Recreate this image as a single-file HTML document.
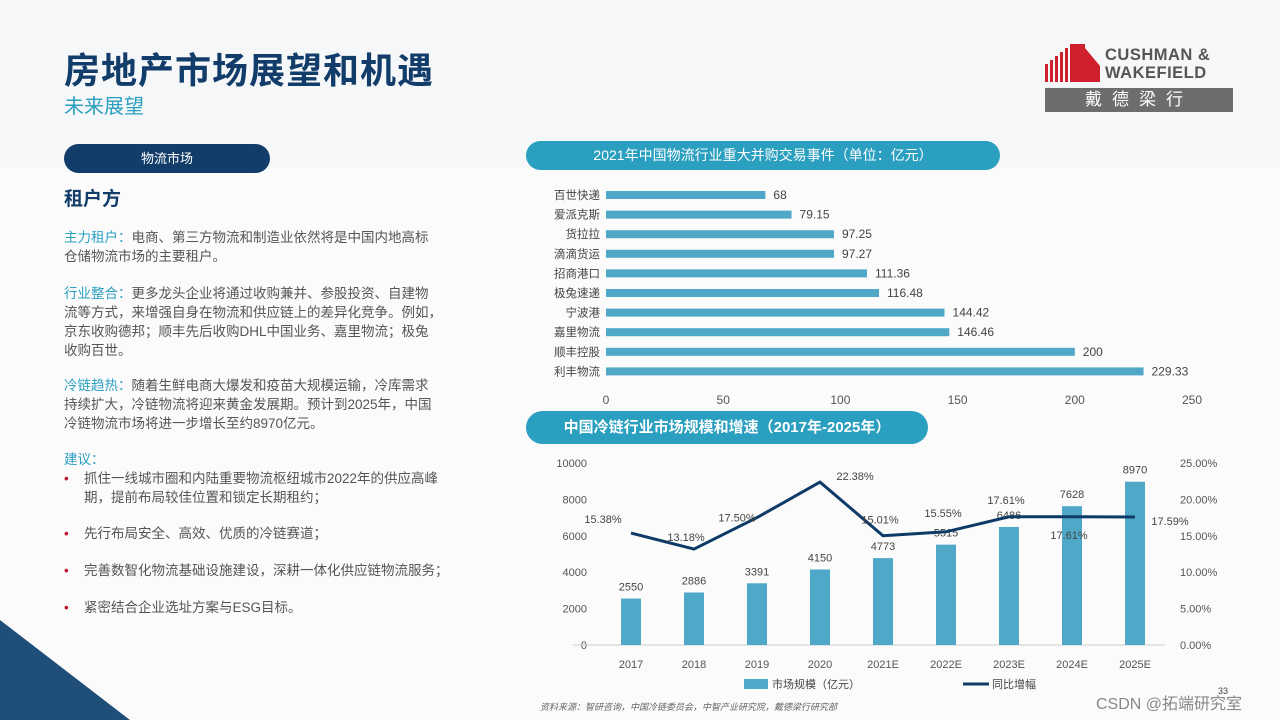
<!DOCTYPE html>
<html><head><meta charset="utf-8">
<style>
*{margin:0;padding:0;box-sizing:border-box}
body{width:1280px;height:720px;overflow:hidden;background:#f6f7f9;font-family:"Liberation Sans","Noto Sans CJK SC",sans-serif;position:relative}
.abs{position:absolute}
.p{font-size:13.5px;line-height:19px;color:#555;white-space:nowrap}
.hl{color:#2a9fc0}
.b{position:absolute;left:64px;font-size:13.5px;color:#555;line-height:19px;white-space:nowrap}
.b::before{content:"•";color:#c0142a;position:absolute;left:0}
.b span{padding-left:20px;display:block}
</style></head><body>
<div class="abs" style="left:0;top:168px;width:1280px;height:552px;background:#fbfbfb"></div>
<div class="abs" style="left:0;top:620px;width:0;height:0;border-bottom:100px solid #1f4e79;border-right:130px solid transparent"></div>
<div class="abs" style="left:64px;top:42px;font-size:36px;font-weight:bold;color:#123d6a;letter-spacing:1px">房地产市场展望和机遇</div>
<div class="abs" style="left:64px;top:90px;font-size:20px;color:#2a9fc0">未来展望</div>
<div class="abs" style="left:1045px;top:44px;width:188px;height:68px">
 <svg width="56" height="38" style="position:absolute;left:0;top:0"><g fill="#d0202e">
 <rect x="0" y="20" width="3" height="18"/><rect x="5" y="16" width="3" height="22"/><rect x="10" y="12" width="3" height="26"/><rect x="15" y="8" width="3" height="30"/><rect x="20" y="4" width="3" height="34"/><rect x="25" y="0" width="15" height="38"/><polygon points="40,4 55,22 55,38 40,38"/></g></svg>
 <div style="position:absolute;left:60px;top:2px;font-size:16.5px;font-weight:bold;color:#555;line-height:18px;letter-spacing:0.5px">CUSHMAN &amp;<br>WAKEFIELD</div>
 <div style="position:absolute;left:0;top:44px;width:188px;height:24px;background:#6d6d6d;color:#fff;font-size:17px;text-align:center;letter-spacing:10px;line-height:24px">戴德梁行</div>
</div>
<div class="abs" style="left:64px;top:144px;width:206px;height:29px;border-radius:15px;background:#123d6a;color:#fff;font-size:13px;text-align:center;line-height:29px">物流市场</div>
<div class="abs" style="left:64px;top:184px;font-size:19px;font-weight:bold;color:#123d6a">租户方</div>
<div class="abs p" style="left:64px;top:228px"><span class="hl">主力租户：</span>电商、第三方物流和制造业依然将是中国内地高标<br>仓储物流市场的主要租户。</div>
<div class="abs p" style="left:64px;top:284px"><span class="hl">行业整合：</span>更多龙头企业将通过收购兼并、参股投资、自建物<br>流等方式，来增强自身在物流和供应链上的差异化竞争。例如，<br>京东收购德邦；顺丰先后收购DHL中国业务、嘉里物流；极兔<br>收购百世。</div>
<div class="abs p" style="left:64px;top:376px"><span class="hl">冷链趋热：</span>随着生鲜电商大爆发和疫苗大规模运输，冷库需求<br>持续扩大，冷链物流将迎来黄金发展期。预计到2025年，中国<br>冷链物流市场将进一步增长至约8970亿元。</div>
<div class="abs p hl" style="left:64px;top:450px">建议：</div>
<div class="b" style="top:469px"><span>抓住一线城市圈和内陆重要物流枢纽城市2022年的供应高峰<br>期，提前布局较佳位置和锁定长期租约；</span></div>
<div class="b" style="top:524px"><span>先行布局安全、高效、优质的冷链赛道；</span></div>
<div class="b" style="top:561px"><span>完善数智化物流基础设施建设，深耕一体化供应链物流服务；</span></div>
<div class="b" style="top:598px"><span>紧密结合企业选址方案与ESG目标。</span></div>
<div class="abs" style="left:526px;top:141px;width:474px;height:29px;border-radius:15px;background:#2a9fc0;color:#fff;font-size:14px;text-align:center;line-height:29px">2021年中国物流行业重大并购交易事件（单位：亿元）</div>
<div class="abs" style="left:526px;top:411px;width:402px;height:33px;border-radius:17px;background:#2a9fc0;color:#fff;font-size:15px;font-weight:bold;text-align:center;line-height:33px">中国冷链行业市场规模和增速（2017年-2025年）</div>
<svg class="abs" style="left:0;top:0" width="1280" height="720" id="charts"></svg>
<div class="abs" style="left:540px;top:700px;font-size:9px;font-style:italic;color:#666">资料来源：智研咨询，中国冷链委员会，中智产业研究院，戴德梁行研究部</div>
<div class="abs" style="left:1218px;top:686px;font-size:9px;color:#444">33</div>
<div class="abs" style="left:1096px;top:690px;font-size:16px;color:#888">CSDN @拓端研究室</div>
<script>
const maCompanies=["百世快递","爱派克斯","货拉拉","滴滴货运","招商港口","极兔速递","宁波港","嘉里物流","顺丰控股","利丰物流"];
const maValues=[68,79.15,97.25,97.27,111.36,116.48,144.42,146.46,200,229.33];
const maTicks=[0,50,100,150,200,250];
const ccYears=["2017","2018","2019","2020","2021E","2022E","2023E","2024E","2025E"];
const ccSize=[2550,2886,3391,4150,4773,5515,6486,7628,8970];
const ccGrowth=[15.38,13.18,17.50,22.38,15.01,15.55,17.61,17.61,17.59];
const ccLeftTicks=[0,2000,4000,6000,8000,10000];
const ccRightTicks=[0,5,10,15,20,25];
const NS="http://www.w3.org/2000/svg";
const svg=document.getElementById('charts');
function mk(t,a,txt){const e=document.createElementNS(NS,t);for(const k in a)e.setAttribute(k,a[k]);if(txt!==undefined)e.textContent=txt;svg.appendChild(e);return e;}
const F='"Liberation Sans","Noto Sans CJK SC",sans-serif';
const mx=v=>606+v*(1192-606)/250;
const my=i=>195+i*19.6;
maTicks.forEach(t=>{const e=mk('text',{x:mx(t),y:404,'text-anchor':'middle','font-size':12,fill:'#555','font-family':F},t);

});
maCompanies.forEach((c,i)=>{
 const l=mk('text',{x:600,y:my(i)+4,'text-anchor':'end','font-size':11.5,fill:'#444','font-family':F},c);
 
 
 const r=mk('rect',{x:mx(0),y:my(i)-4,width:mx(maValues[i])-mx(0),height:8,fill:'#4fa8c8'});
 
 
 const v=mk('text',{x:mx(maValues[i])+8,y:my(i)+4,'font-size':12,fill:'#444','font-family':F},maValues[i]);
 
 
});
const cx=i=>631+i*63;
const cyL=v=>645-v*(645-463)/10000;
const cyR=v=>645-v*(645-463)/25;
ccLeftTicks.forEach(t=>{const e=mk('text',{x:587,y:cyL(t)+4,'text-anchor':'end','font-size':11,fill:'#555','font-family':F},t);

});
ccRightTicks.forEach(t=>{const e=mk('text',{x:1180,y:cyR(t)+4,'font-size':11,fill:'#555','font-family':F},t.toFixed(2)+'%');

});
const ax=mk('line',{x1:573,x2:1165,y1:645,y2:645,stroke:'#ccc'});


ccYears.forEach((y,i)=>{
 const t=mk('text',{x:cx(i),y:668,'text-anchor':'middle','font-size':11,fill:'#555','font-family':F},y);
 
 
 const r=mk('rect',{x:cx(i)-10,y:cyL(ccSize[i]),width:20,height:645-cyL(ccSize[i]),fill:'#4fa8c8'});
 
 
 const v=mk('text',{x:cx(i),y:cyL(ccSize[i])-8,'text-anchor':'middle','font-size':11,fill:'#444','font-family':F},ccSize[i]);
 
 
});
const pts=ccGrowth.map((g,i)=>cx(i)+','+cyR(g)).join(' ');
const pl=mk('polyline',{points:pts,fill:'none',stroke:'#0d3a66','stroke-width':3});


const gOff=[[-28,-14],[-8,-12],[-20,0],[35,-6],[-3,-16],[-3,-19],[-3,-17],[-3,18],[35,4]];
ccGrowth.forEach((g,i)=>{
 const t=mk('text',{x:cx(i)+gOff[i][0],y:cyR(g)+gOff[i][1]+4,'text-anchor':'middle','font-size':11,fill:'#444','font-family':F},g.toFixed(2)+'%');
 
 
});
const lg1=mk('rect',{x:744,y:679,width:24,height:10,fill:'#4fa8c8'});


const lg1t=mk('text',{x:772,y:688,'font-size':11,fill:'#444','font-family':F},'市场规模（亿元）');


const lg2=mk('line',{x1:963,x2:989,y1:684,y2:684,stroke:'#0d3a66','stroke-width':3});


const lg2t=mk('text',{x:992,y:688,'font-size':11,fill:'#444','font-family':F},'同比增幅');


</script>
</body></html>
